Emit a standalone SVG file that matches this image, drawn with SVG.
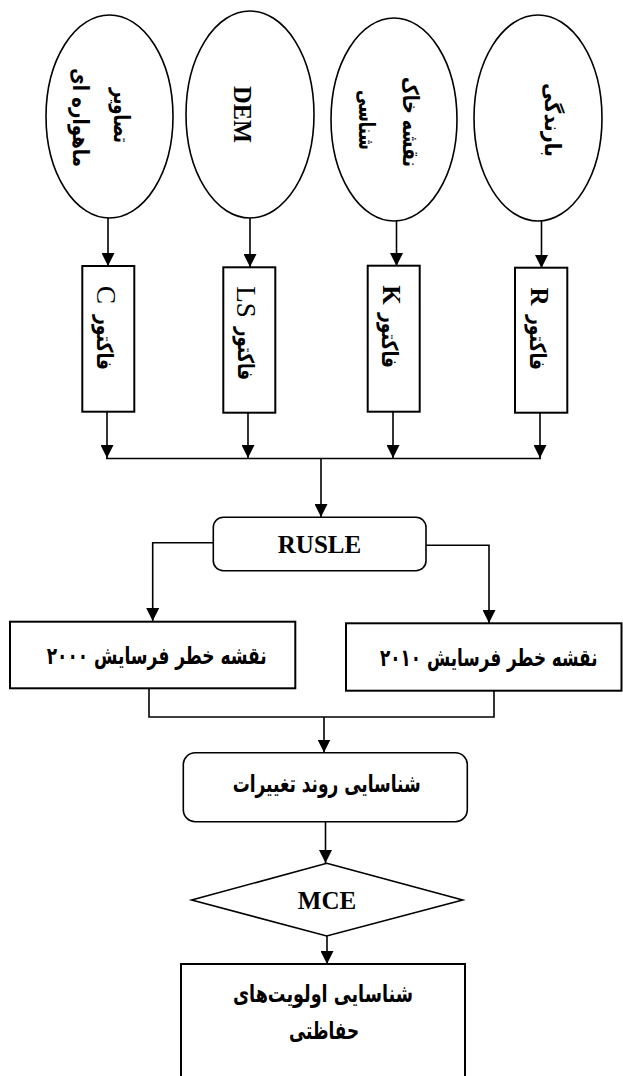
<svg xmlns="http://www.w3.org/2000/svg" width="623" height="1076" viewBox="0 0 623 1076">
<style>
.n{fill:#fff;stroke:#000;stroke-width:1.6}
.r{fill:#fff;stroke:#000;stroke-width:2}
.c{fill:none;stroke:#000;stroke-width:1.6}
.t{font-family:"Liberation Serif",serif;font-weight:bold;fill:#000;text-anchor:middle}
.fa{font-family:"DejaVu Sans",sans-serif;font-weight:bold;fill:#000;text-anchor:middle;direction:rtl}
.reg{font-weight:normal}
</style>
<defs>
<marker id="ah" markerUnits="userSpaceOnUse" markerWidth="13" markerHeight="13" refX="13" refY="6.5" orient="auto">
<path d="M0,0 L13,6.5 L0,13 z" fill="#000"/>
</marker>
</defs>
<rect width="623" height="1076" fill="#fff"/>

<g id="connectors" class="c">
<line x1="108" y1="218" x2="108" y2="266" marker-end="url(#ah)"/>
<line x1="250" y1="218" x2="250" y2="267" marker-end="url(#ah)"/>
<line x1="396.5" y1="221" x2="396.5" y2="266" marker-end="url(#ah)"/>
<line x1="541.5" y1="221" x2="541.5" y2="268" marker-end="url(#ah)"/>
<line x1="107" y1="412" x2="107" y2="458" marker-end="url(#ah)"/>
<line x1="248" y1="413" x2="248" y2="458" marker-end="url(#ah)"/>
<line x1="393" y1="412" x2="393" y2="458" marker-end="url(#ah)"/>
<line x1="540" y1="413" x2="540" y2="458" marker-end="url(#ah)"/>
<line x1="106" y1="458.5" x2="541" y2="458.5"/>
<line x1="321" y1="458.5" x2="321" y2="517" marker-end="url(#ah)"/>
<polyline points="213,542.7 152.7,542.7 152.7,621" marker-end="url(#ah)"/>
<polyline points="426,545.3 489,545.3 489,623" marker-end="url(#ah)"/>
<polyline points="149,688 149,717 494,717 494,691"/>
<line x1="324" y1="717" x2="324" y2="752.5" marker-end="url(#ah)"/>
<line x1="325.5" y1="822" x2="325.5" y2="863" marker-end="url(#ah)"/>
<line x1="327" y1="936" x2="327" y2="964" marker-end="url(#ah)"/>
</g>

<g id="ellipse-satellite">
<ellipse class="n" cx="109.5" cy="116.5" rx="63.5" ry="101.5"/>
<text class="fa" font-size="22" textLength="55" lengthAdjust="spacingAndGlyphs" transform="translate(121,115.5) rotate(90)" dominant-baseline="central">تصاویر</text>
<text class="fa" font-size="22" textLength="99" lengthAdjust="spacingAndGlyphs" transform="translate(80,117.5) rotate(90)" dominant-baseline="central">ماهواره ای</text>
</g>
<g id="ellipse-dem">
<ellipse class="n" cx="250" cy="114.5" rx="64" ry="103.5"/>
<text class="t" font-size="26" textLength="57" lengthAdjust="spacingAndGlyphs" transform="translate(242,114.5) rotate(90)" dominant-baseline="central">DEM</text>
</g>
<g id="ellipse-soil">
<ellipse class="n" cx="394" cy="119.5" rx="63" ry="101.5"/>
<text class="fa" font-size="22" textLength="90" lengthAdjust="spacingAndGlyphs" transform="translate(410,122) rotate(90)" dominant-baseline="central">نقشه خاک</text>
<text class="fa" font-size="22" textLength="60" lengthAdjust="spacingAndGlyphs" transform="translate(366,120) rotate(90)" dominant-baseline="central">شناسی</text>
</g>
<g id="ellipse-rain">
<ellipse class="n" cx="538" cy="118" rx="64" ry="103"/>
<text class="fa" font-size="22" textLength="74" lengthAdjust="spacingAndGlyphs" transform="translate(552,120) rotate(90)" dominant-baseline="central">بارندگی</text>
</g>

<g id="rect-c">
<rect class="r" x="82.3" y="266" width="52" height="145.7"/>
<text class="t reg" font-size="27" transform="translate(106,295) rotate(90)" dominant-baseline="central">C</text>
<text class="fa" font-size="22" textLength="55" lengthAdjust="spacingAndGlyphs" transform="translate(104,342.5) rotate(90)" dominant-baseline="central">فاکتور</text>
</g>
<g id="rect-ls">
<rect class="r" x="223.3" y="267.3" width="52" height="145.4"/>
<text class="t reg" font-size="27" transform="translate(246,302) rotate(90)" dominant-baseline="central">LS</text>
<text class="fa" font-size="22" textLength="53" lengthAdjust="spacingAndGlyphs" transform="translate(245,353.5) rotate(90)" dominant-baseline="central">فاکتور</text>
</g>
<g id="rect-k">
<rect class="r" x="367.7" y="265.7" width="52" height="146"/>
<text class="t" font-size="25" transform="translate(391,295) rotate(90)" dominant-baseline="central">K</text>
<text class="fa" font-size="22" textLength="55" lengthAdjust="spacingAndGlyphs" transform="translate(389,340.5) rotate(90)" dominant-baseline="central">فاکتور</text>
</g>
<g id="rect-r">
<rect class="r" x="515" y="267.7" width="52.3" height="145"/>
<text class="t" font-size="25" transform="translate(539,296.5) rotate(90)" dominant-baseline="central">R</text>
<text class="fa" font-size="22" textLength="55" lengthAdjust="spacingAndGlyphs" transform="translate(537,342.5) rotate(90)" dominant-baseline="central">فاکتور</text>
</g>

<g id="rusle">
<rect class="n" x="213.3" y="517.3" width="212.7" height="53.4" rx="10"/>
<text class="t" font-size="25" x="319.5" y="553">RUSLE</text>
</g>
<g id="map-2000">
<rect class="r" x="10" y="621.7" width="285.3" height="66.6"/>
<text class="fa" font-size="24" textLength="220" lengthAdjust="spacingAndGlyphs" x="156.7" y="664">نقشه خطر فرسایش ۲۰۰۰</text>
</g>
<g id="map-2010">
<rect class="r" x="346" y="623.3" width="275.5" height="67.4"/>
<text class="fa" font-size="24" transform="translate(488.8,666) scale(0.7,1)">نقشه خطر فرسایش ۲۰۱۰</text>
</g>
<g id="trend">
<rect class="n" x="183.3" y="752.7" width="284" height="69" rx="12"/>
<text class="fa" font-size="24" textLength="188" lengthAdjust="spacingAndGlyphs" x="326.7" y="792">شناسایی روند تغییرات</text>
</g>
<g id="mce">
<polygon class="n" points="326.7,863.3 462.7,900 326.7,936 191.7,900"/>
<text class="t" font-size="25" x="327" y="909">MCE</text>
</g>
<g id="priorities">
<rect class="r" x="181" y="964" width="284" height="120"/>
<text class="fa" font-size="24" textLength="180" lengthAdjust="spacingAndGlyphs" x="323" y="1002">شناسایی اولویت&#8204;های</text>
<text class="fa" font-size="24" textLength="70" lengthAdjust="spacingAndGlyphs" x="324" y="1039">حفاظتی</text>
</g>
</svg>
